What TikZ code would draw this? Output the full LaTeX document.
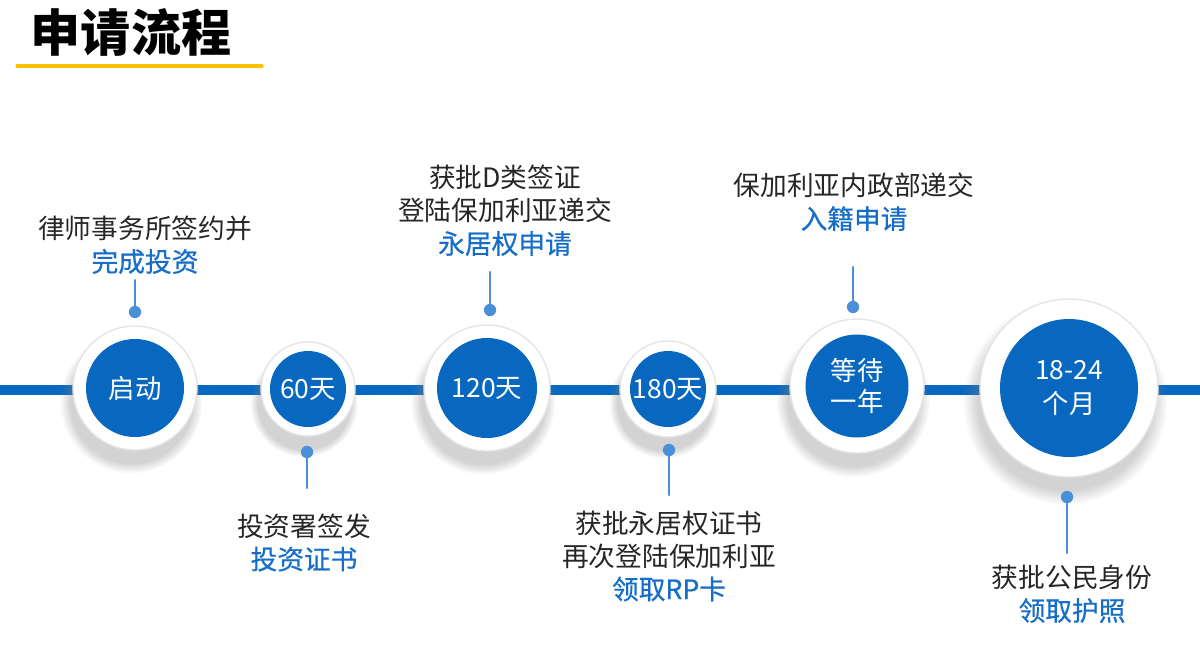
\documentclass[tikz,border=0pt]{standalone}
\usepackage{fontspec}
\setmainfont{Noto Sans CJK SC}
\newfontfamily\medfont{Noto Sans CJK SC}[FakeBold=0.6]
\usepackage{tikz}
\usetikzlibrary{shadows}
\usepackage{xcolor}
\definecolor{tlblue}{RGB}{8,104,192}
\definecolor{stemblue}{RGB}{74,144,217}
\definecolor{txtblue}{RGB}{22,110,200}
\definecolor{barorange}{RGB}{255,192,0}

\begin{document}
\begin{tikzpicture}[font=\fontsize{15.2}{18.8}\selectfont,line cap=round,
  ring/.style={circle,fill=white,draw=black!10,line width=0.8pt,inner sep=0pt,
    circular drop shadow={shadow scale=1.15,shadow xshift=-2pt,shadow yshift=-7pt,opacity=.35}},
  disc/.style={circle,fill=tlblue,text=white,inner sep=0pt,align=center,
    font=\fontsize{15}{17.5}\selectfont},
  stem/.style={stemblue,line width=1.2pt},
  dot/.style={circle,fill=stemblue,inner sep=0pt,minimum size=7pt},
  lab/.style={align=center,text=black!85,inner sep=0pt}]
\useasboundingbox (0,0) rectangle (24,13.12);
\node[font=\fontsize{28.5}{30}\selectfont\bfseries] (title) at (2.62,12.48) {申请流程};
\coordinate (barL) at (0.34,11.8);
\coordinate (barR) at (5.24,11.8);
\draw[barorange,line width=1.8pt] (barL) -- (barR);
\coordinate (lineL) at (0,5.32);
\coordinate (lineR) at (24,5.32);
\draw[tlblue,line width=5.7pt,line cap=butt] (lineL) -- (lineR);
\node[ring,minimum size=2.48cm] (r1) at (2.7,5.36) {};
\node[disc,minimum size=1.96cm] (c1) at (r1) {启动};
\node[ring,minimum size=1.88cm] (r2) at (6.16,5.34) {};
\node[disc,minimum size=1.52cm] (c2) at (r2) {60天};
\node[ring,minimum size=2.52cm] (r3) at (9.74,5.36) {};
\node[disc,minimum size=2cm] (c3) at (r3) {120天};
\node[ring,minimum size=1.92cm] (r4) at (13.36,5.34) {};
\node[disc,minimum size=1.52cm] (c4) at (r4) {180天};
\node[ring,minimum size=2.68cm] (r5) at (17.14,5.4) {};
\node[disc,minimum size=2.06cm] (c5) at (r5) {等待\\一年};
\node[ring,minimum size=3.56cm] (r6) at (21.38,5.36) {};
\node[disc,minimum size=2.76cm,font=\fontsize{15}{18.8}\selectfont] (c6) at (r6) {18-24\\个月};
\node[dot] (d1) at (2.7,6.88) {};
\coordinate (e1) at (2.7,7.52);
\draw[stem] (e1) -- (d1.center);
\node[dot] (d2) at (6.14,4.08) {};
\coordinate (e2) at (6.14,3.36);
\draw[stem] (e2) -- (d2.center);
\node[dot] (d3) at (9.8,6.92) {};
\coordinate (e3) at (9.8,7.68);
\draw[stem] (e3) -- (d3.center);
\node[dot] (d4) at (13.38,4.12) {};
\coordinate (e4) at (13.38,3.22);
\draw[stem] (e4) -- (d4.center);
\node[dot] (d5) at (17.06,6.98) {};
\coordinate (e5) at (17.06,7.78);
\draw[stem] (e5) -- (d5.center);
\node[dot] (d6) at (21.34,3.18) {};
\coordinate (e6) at (21.34,2.06);
\draw[stem] (e6) -- (d6.center);
\node[lab] (t1) at (2.9,8.22) {律师事务所签约并\\{\color{txtblue}\medfont 完成投资}};
\node[lab] (t2) at (6.08,2.27) {投资署签发\\{\color{txtblue}\medfont 投资证书}};
\node[lab] (t3) at (10.1,8.91) {获批D类签证\\登陆保加利亚递交\\{\color{txtblue}\medfont 永居权申请}};
\node[lab] (t4) at (13.38,2.0) {获批永居权证书\\再次登陆保加利亚\\{\color{txtblue}\medfont 领取RP卡}};
\node[lab] (t5) at (17.08,9.08) {保加利亚内政部递交\\{\color{txtblue}\medfont 入籍申请}};
\node[lab] (t6) at (21.44,1.24) {获批公民身份\\{\color{txtblue}\medfont 领取护照}};
\end{tikzpicture}
\end{document}
